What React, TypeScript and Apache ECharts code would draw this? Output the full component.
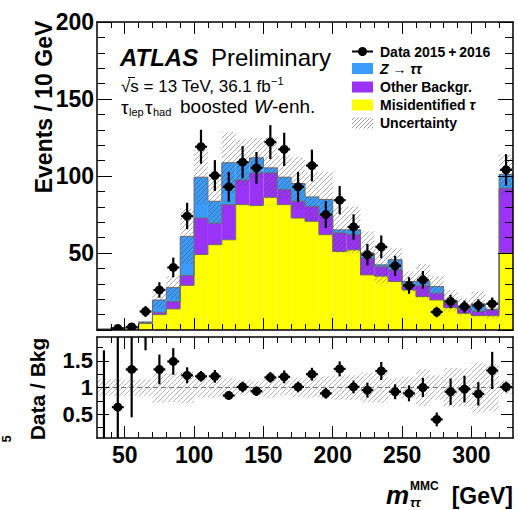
import React, { useEffect, useRef } from "react";
import * as echarts from "echarts";

// ---- data ----
const binCenters = [35, 45, 55, 65, 75, 85, 95, 105, 115, 125, 135, 145, 155, 165, 175, 185, 195, 205, 215, 225, 235, 245, 255, 265, 275, 285, 295, 305, 315, 325];
const misidTau = [0.5, 1.2, 1.2, 4.3, 10, 13.7, 29, 49, 55.4, 58.6, 81.4, 80.8, 86.2, 81.4, 72.7, 70.6, 61.9, 51, 52, 35.8, 35, 31.5, 26, 21.7, 19.5, 14.5, 10.9, 9.3, 9.3, 50];
const otherBkg = [0, 0.2, 0.2, 0.4, 1.5, 4.8, 6.3, 23.7, 14, 22.8, 16, 21.2, 15.8, 9.8, 10.9, 9.7, 12.4, 12, 9.9, 10.9, 6, 7.5, 3.3, 7, 4.4, 3, 3.2, 2.7, 3.7, 42];
const zTauTau = [0, 0.2, 0.1, 0.5, 8, 9, 25.5, 26.5, 14.2, 27.2, 11.2, 9.8, 3.3, 8, 11.5, 6.1, 10.4, 2, 3.2, 3.3, 1.3, 6.6, 2.2, 3, 4.3, 1.5, 1.1, 5, 0.5, 9];
const bkgUnc = [0.08, 0.25, 0.22, 0.8, 5.5, 7.5, 18, 18, 15, 20, 15, 13, 20, 14, 17, 16, 18, 15, 15, 14, 12, 7.5, 6.5, 11, 6.5, 7, 5.4, 8, 6, 13];
const dataVals = [0, 1, 2, 12, 26, 40.6, 74, 119, 100.3, 93, 109, 105.3, 122, 117.3, 93, 106.8, 75, 84.3, 66.9, 48.9, 54, 41.7, 28.9, 32.6, 11.7, 18.5, 15.2, 16, 17, 104];
const dataErr = [0, 1.3, 1.8, 3.5, 5, 6.4, 8.6, 11, 10, 9.7, 10.4, 10.3, 11, 10.8, 9.7, 10.3, 8.7, 9.2, 8.2, 7, 7.4, 6.5, 5.4, 5.7, 3.4, 4.3, 3.9, 4, 4.1, 10.2];
const ratioVals = [0, 0.63, 1.34, 2.4, 1.34, 1.49, 1.23, 1.21, 1.21, 0.85, 1.01, 0.93, 1.19, 1.2, 1.01, 1.25, 0.89, 1.35, 1.01, 0.95, 1.31, 0.92, 0.89, 1.0, 0.4, 0.92, 0.97, 0.88, 1.32, 1.01];
const ratioErr = [1.7, 1.6, 0.9, 0.7, 0.28, 0.25, 0.15, 0.1, 0.12, 0.08, 0.1, 0.09, 0.1, 0.12, 0.1, 0.12, 0.1, 0.14, 0.12, 0.14, 0.17, 0.14, 0.15, 0.18, 0.13, 0.25, 0.25, 0.22, 0.35, 0.1];

const xTickLabels = [50, 100, 150, 200, 250, 300];
const xMinorTicks = [40, 60, 70, 80, 90, 110, 120, 130, 140, 160, 170, 180, 190, 210, 220, 230, 240, 260, 270, 280, 290, 310, 320];
const yTickLabels = [50, 100, 150, 200];
const ratioTickLabels = [0.5, 1, 1.5];
const ratioMinorTicks = [0.25, 0.75, 1.25, 1.75];

const X_MIN = 30;
const X_MAX = 330;
const BIN_HALF = 5;

const FAM = "'Liberation Sans', Arial, Helvetica, sans-serif";
const C_YEL = "#FFFF00";
const C_PUR = "#9A32F7";
const C_BLU = "#3B9BFA";
const HATCH = { stroke: "rgba(70,70,70,0.45)", lineWidth: 1 };
const OUTLINE = { stroke: "#6a6a6a", lineWidth: 1 };

function hatchLines(x0: number, y0: number, x1: number, y1: number, step: number, style: any) {
  const out: any[] = [];
  const cStart = Math.ceil((x0 + y0) / step) * step;
  for (let c = cStart; c <= x1 + y1; c += step) {
    const xa = Math.max(x0, c - y1);
    const xb = Math.min(x1, c - y0);
    if (xb - xa > 0.2) {
      out.push({ type: "line", shape: { x1: xa, y1: c - xa, x2: xb, y2: c - xb }, style });
    }
  }
  return out;
}

const totals = binCenters.map((_, i) => misidTau[i] + otherBkg[i] + zTauTau[i]);

function histRender(params: any, api: any) {
  const i = api.value(2);
  const c = binCenters[i];
  const xl = api.coord([c - BIN_HALF, 0])[0];
  const xr = api.coord([c + BIN_HALF, 0])[0];
  const y0 = api.coord([c, 0])[1];
  const yTopAxis = api.coord([c, 200])[1];
  const l1 = misidTau[i];
  const l2 = l1 + otherBkg[i];
  const l3 = totals[i];
  const y1 = api.coord([c, l1])[1];
  const y2 = api.coord([c, l2])[1];
  const y3 = api.coord([c, l3])[1];
  const children: any[] = [];
  children.push({ type: "rect", shape: { x: xl, y: y1, width: xr - xl, height: y0 - y1 }, style: { fill: C_YEL } });
  children.push({ type: "rect", shape: { x: xl, y: y2, width: xr - xl, height: y1 - y2 }, style: { fill: C_PUR } });
  children.push({ type: "rect", shape: { x: xl, y: y3, width: xr - xl, height: y2 - y3 }, style: { fill: C_BLU } });
  const prev = i > 0 ? [misidTau[i - 1], misidTau[i - 1] + otherBkg[i - 1], totals[i - 1]] : [0, 0, 0];
  [y1, y2, y3].forEach((yy, k) => {
    children.push({ type: "line", shape: { x1: xl, y1: yy, x2: xr, y2: yy }, style: OUTLINE });
    const yp = api.coord([c, prev[k]])[1];
    if (Math.abs(yp - yy) > 0.3) {
      children.push({ type: "line", shape: { x1: xl, y1: yp, x2: xl, y2: yy }, style: OUTLINE });
    }
  });
  const u = bkgUnc[i];
  const yb1 = Math.max(api.coord([c, l3 + u])[1], yTopAxis);
  const yb2 = Math.min(api.coord([c, Math.max(l3 - u, 0)])[1], y0);
  hatchLines(xl, yb1, xr, yb2, 5, HATCH).forEach((h) => children.push(h));
  return { type: "group", children };
}

function pointsRender(vals: number[], errs: number[], yMin: number, yMax: number) {
  return (params: any, api: any) => {
    const i = api.value(2);
    const c = binCenters[i];
    const v = vals[i];
    const e = errs[i];
    if (v === 0 && e === 0) return { type: "group", children: [] };
    const xl = api.coord([c - BIN_HALF, 0])[0];
    const xr = api.coord([c + BIN_HALF, 0])[0];
    const xc = api.coord([c, 0])[0];
    const yTop = api.coord([c, yMax])[1];
    const yBot = api.coord([c, yMin])[1];
    const clampY = (y: number) => Math.min(Math.max(y, yTop), yBot);
    const yv = api.coord([c, v])[1];
    const ye1 = clampY(api.coord([c, v + e])[1]);
    const ye2 = clampY(api.coord([c, v - e])[1]);
    const st = { stroke: "#000", lineWidth: 2.2 };
    const children: any[] = [];
    if (ye2 - ye1 > 0.5) children.push({ type: "line", shape: { x1: xc, y1: ye1, x2: xc, y2: ye2 }, style: st });
    if (v > 0 && yv >= yTop && yv <= yBot) {
      children.push({ type: "line", shape: { x1: xl + 1, y1: yv, x2: xr - 1, y2: yv }, style: st });
      children.push({ type: "circle", shape: { cx: xc, cy: yv, r: 4.5 }, style: { fill: "#000" } });
    }
    return { type: "group", children };
  };
}

function ratioBandRender(params: any, api: any) {
  const i = api.value(2);
  const c = binCenters[i];
  const xl = api.coord([c - BIN_HALF, 1])[0];
  const xr = api.coord([c + BIN_HALF, 1])[0];
  const r = bkgUnc[i] / totals[i];
  const ya = api.coord([c, 1 + r])[1];
  const yb = api.coord([c, 1 - r])[1];
  return { type: "group", children: hatchLines(xl, ya, xr, yb, 5, { stroke: "rgba(90,90,90,0.45)", lineWidth: 1 }) };
}

function xAxisDef(gridIndex: number, position: string, ticks: number[], len: number, line: boolean, labels?: number[]) {
  return {
    type: "value",
    gridIndex,
    position,
    min: X_MIN,
    max: X_MAX,
    z: 10,
    axisLine: { show: line, onZero: false, lineStyle: { color: "#000", width: 1.5 } },
    axisTick: { show: true, inside: true, length: len, customValues: ticks, lineStyle: { color: "#000", width: 1 } },
    axisLabel: labels
      ? { show: true, customValues: labels, fontSize: 23, fontWeight: "bold", color: "#000", fontFamily: FAM, margin: 5 }
      : { show: false },
    splitLine: { show: false },
  };
}

function ratioYDef(position: string, ticks: number[], len: number, line: boolean, labels?: number[]) {
  return {
    type: "value",
    gridIndex: 1,
    position,
    min: 0.05,
    max: 1.95,
    z: 10,
    axisLine: { show: line, onZero: false, lineStyle: { color: "#000", width: 1.5 } },
    axisTick: { show: true, inside: true, length: len, customValues: ticks, lineStyle: { color: "#000", width: 1 } },
    axisLabel: labels
      ? { show: true, customValues: labels, fontSize: 22, fontWeight: "bold", color: "#000", fontFamily: FAM, margin: 4 }
      : { show: false },
    splitLine: { show: false },
  };
}

function mainYDef(position: string, labels: boolean) {
  return {
    type: "value",
    gridIndex: 0,
    position,
    min: 0,
    max: 200,
    interval: 50,
    z: 10,
    axisLine: { show: true, onZero: false, lineStyle: { color: "#000", width: 1.5 } },
    axisTick: { show: true, inside: true, length: 15, lineStyle: { color: "#000", width: 1 } },
    minorTick: { show: true, splitNumber: 5, length: 8, lineStyle: { color: "#000", width: 1 } },
    axisLabel: labels
      ? {
          show: true,
          fontSize: 23,
          fontWeight: "bold",
          color: "#000",
          fontFamily: FAM,
          margin: 3,
          formatter: (v: number) => (yTickLabels.indexOf(v) >= 0 ? String(v) : ""),
        }
      : { show: false },
    splitLine: { show: false },
  };
}

function legendHatch(x: number, y: number, w: number, h: number) {
  return hatchLines(x, y, x + w, y + h, 4, { stroke: "rgba(120,120,120,0.75)", lineWidth: 1 });
}

const T = (x: number, y: number, text: string, font: string, extra: any = {}) => ({
  type: "text",
  x,
  y,
  z: 20,
  style: { text, font, fill: "#000", textVerticalAlign: "middle", ...extra },
});

function buildOption(): any {
  const idxData = binCenters.map((c, i) => [c, totals[i], i]);
  const legFont = `bold 14px ${FAM}`;
  return {
    animation: false,
    backgroundColor: "#fff",
    grid: [
      { left: 97, top: 22, width: 416, height: 308 },
      { left: 97, top: 337, width: 416, height: 101 },
    ],
    xAxis: [
      xAxisDef(0, "bottom", xTickLabels, 12, true),
      xAxisDef(0, "bottom", xMinorTicks, 6, false),
      xAxisDef(0, "top", xTickLabels, 12, true),
      xAxisDef(0, "top", xMinorTicks, 6, false),
      xAxisDef(1, "bottom", xTickLabels, 12, true, xTickLabels),
      xAxisDef(1, "bottom", xMinorTicks, 6, false),
      xAxisDef(1, "top", xTickLabels, 12, true),
      xAxisDef(1, "top", xMinorTicks, 6, false),
    ],
    yAxis: [
      mainYDef("left", true),
      mainYDef("right", false),
      ratioYDef("left", ratioTickLabels, 12, true, ratioTickLabels),
      ratioYDef("left", ratioMinorTicks, 6, false),
      ratioYDef("right", ratioTickLabels, 12, true),
      ratioYDef("right", ratioMinorTicks, 6, false),
    ],
    series: [
      {
        type: "custom",
        name: "stack",
        xAxisIndex: 0,
        yAxisIndex: 0,
        clip: true,
        renderItem: histRender,
        data: idxData,
        encode: { x: 0, y: 1 },
        z: 2,
        silent: true,
      },
      {
        type: "custom",
        name: "data",
        xAxisIndex: 0,
        yAxisIndex: 0,
        clip: true,
        renderItem: pointsRender(dataVals, dataErr, 0, 200),
        data: binCenters.map((c, i) => [c, dataVals[i], i]),
        encode: { x: 0, y: 1 },
        z: 5,
        silent: true,
      },
      {
        type: "custom",
        name: "ratioBand",
        xAxisIndex: 4,
        yAxisIndex: 2,
        clip: true,
        renderItem: ratioBandRender,
        data: binCenters.map((c, i) => [c, 1, i]),
        encode: { x: 0, y: 1 },
        z: 2,
        silent: true,
      },
      {
        type: "line",
        xAxisIndex: 4,
        yAxisIndex: 2,
        data: [
          [X_MIN, 1],
          [X_MAX, 1],
        ],
        symbol: "none",
        lineStyle: { color: "#777", width: 1, type: [5, 3] },
        z: 3,
        silent: true,
      },
      {
        type: "custom",
        name: "ratio",
        xAxisIndex: 4,
        yAxisIndex: 2,
        clip: true,
        renderItem: pointsRender(ratioVals, ratioErr, 0.05, 1.95),
        data: binCenters.map((c, i) => [c, Math.min(ratioVals[i], 1.9), i]),
        encode: { x: 0, y: 1 },
        z: 5,
        silent: true,
      },
    ],
    graphic: [
      T(120, 57, "ATLAS", `italic bold 24px ${FAM}`),
      T(211, 57, "Preliminary", `24px ${FAM}`),
      {
        type: "text",
        x: 121,
        y: 86,
        z: 20,
        style: {
          text: "√s = 13 TeV, 36.1 fb{sup|−1}",
          font: `17px ${FAM}`,
          fill: "#000",
          textVerticalAlign: "middle",
          rich: {
            sup: { fontSize: 11, fontFamily: FAM, verticalAlign: "top", lineHeight: 22, padding: [0, 0, 8, 0] },
          },
        },
      },
      { type: "line", z: 20, shape: { x1: 128, y1: 77.5, x2: 135, y2: 77.5 }, style: { stroke: "#000", lineWidth: 1 } },
      T(121, 107, "τ", `19px ${FAM}`),
      T(129, 112, "lep", `11px ${FAM}`),
      T(145, 107, "τ", `19px ${FAM}`),
      T(153, 112, "had", `11px ${FAM}`),
      T(180, 106, "boosted", `19px ${FAM}`),
      T(254, 106, "W", `italic 19px ${FAM}`),
      T(272, 106, "-enh.", `19px ${FAM}`),
      // legend
      { type: "line", z: 20, shape: { x1: 352, y1: 51.5, x2: 373, y2: 51.5 }, style: { stroke: "#000", lineWidth: 2 } },
      { type: "circle", z: 20, shape: { cx: 362.5, cy: 51.5, r: 4.5 }, style: { fill: "#000" } },
      T(380, 51.5, "Data 2015\u2009+\u20092016", legFont),
      { type: "rect", z: 20, shape: { x: 352, y: 63, width: 21, height: 11 }, style: { fill: C_BLU } },
      {
        type: "text",
        x: 380,
        y: 68.5,
        z: 20,
        style: {
          text: "{i|Z} → {i|ττ}",
          font: legFont,
          fill: "#000",
          textVerticalAlign: "middle",
          rich: { i: { fontStyle: "italic", fontWeight: "bold", fontSize: 14, fontFamily: FAM } },
        },
      },
      { type: "rect", z: 20, shape: { x: 352, y: 81.5, width: 21, height: 11 }, style: { fill: C_PUR } },
      T(380, 86.5, "Other Backgr.", legFont),
      { type: "rect", z: 20, shape: { x: 352, y: 99.5, width: 21, height: 11 }, style: { fill: C_YEL } },
      {
        type: "text",
        x: 380,
        y: 104.5,
        z: 20,
        style: {
          text: "Misidentified {i|τ}",
          font: legFont,
          fill: "#000",
          textVerticalAlign: "middle",
          rich: { i: { fontStyle: "italic", fontWeight: "bold", fontSize: 14, fontFamily: FAM } },
        },
      },
      { type: "group", z: 20, children: legendHatch(352, 117.5, 21, 11) },
      T(380, 122.5, "Uncertainty", legFont),
      // axis titles
      {
        type: "text",
        x: 44,
        y: 107,
        rotation: Math.PI / 2,
        z: 20,
        style: { text: "Events / 10 GeV", font: `bold 23px ${FAM}`, fill: "#000", textAlign: "center", textVerticalAlign: "middle" },
      },
      {
        type: "text",
        x: 37,
        y: 389,
        rotation: Math.PI / 2,
        z: 20,
        style: { text: "Data / Bkg", font: `bold 21px ${FAM}`, fill: "#000", textAlign: "center", textVerticalAlign: "middle" },
      },
      {
        type: "text",
        x: 6,
        y: 439,
        rotation: Math.PI / 2,
        z: 20,
        style: { text: "5", font: `bold 13px ${FAM}`, fill: "#000", textAlign: "center", textVerticalAlign: "middle" },
      },
      T(386, 495, "m", `italic bold 26px ${FAM}`),
      T(410, 486, "MMC", `bold 12px ${FAM}`),
      T(410, 502, "ττ", `italic bold 13px ${FAM}`),
      { type: "text", x: 513, y: 496, z: 20, style: { text: "[GeV]", font: `bold 23px ${FAM}`, fill: "#000", textAlign: "right", textVerticalAlign: "middle" } },
    ],
  };
}

export default function App() {
  const ref = useRef<HTMLDivElement>(null);
  useEffect(() => {
    if (!ref.current) return;
    const chart = echarts.init(ref.current, null, { renderer: "svg" });
    chart.setOption(buildOption());
    return () => chart.dispose();
  }, []);
  return <div ref={ref} style={{ position: "absolute", left: 0, top: 0, width: 518, height: 510, background: "#fff" }} />;
}
